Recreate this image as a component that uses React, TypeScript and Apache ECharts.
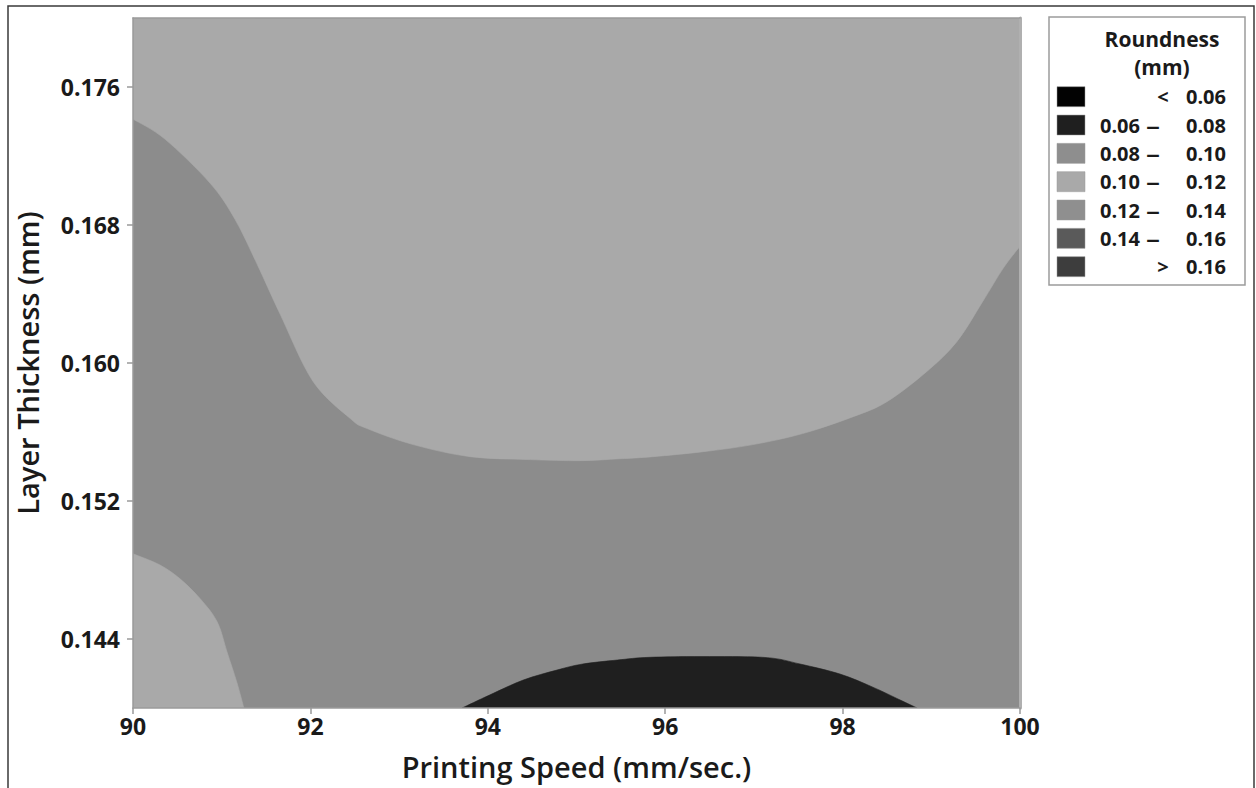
import React, { useEffect, useRef } from "react";
import * as echarts from "echarts";

// ---- data ----
const X_MIN = 90;
const X_MAX = 100;
const Y_MIN = 0.14;
const Y_MAX = 0.18;
const Y_TICKS = [0.144, 0.152, 0.16, 0.168, 0.176];

// boundary between 0.10–0.12 (upper) and 0.08–0.10 (middle band)
const upperBoundary: [number, number][] = [
  [90.0, 0.17414], [90.36, 0.17298], [90.87, 0.17042], [91.15, 0.16833],
  [91.4, 0.16572], [91.66, 0.16282], [92.03, 0.15893], [92.45, 0.15678],
  [92.64, 0.1562], [93.16, 0.15527], [93.8, 0.15457], [94.48, 0.1544],
  [95.04, 0.15434], [95.49, 0.15445], [95.86, 0.15457], [96.43, 0.15486],
  [96.99, 0.15527], [97.55, 0.15591], [98.12, 0.15689], [98.5, 0.15776],
  [98.95, 0.15951], [99.29, 0.16125], [99.58, 0.16357], [99.81, 0.16549],
  [100.0, 0.16677],
];

// boundary of the lower-left 0.10–0.12 pocket
const lowerLeftBoundary: [number, number][] = [
  [90.0, 0.14894], [90.3, 0.1483], [90.53, 0.14749], [90.76, 0.14632],
  [90.95, 0.14499], [91.06, 0.14325], [91.17, 0.1415], [91.25, 0.14],
];

// boundary of the 0.06–0.08 region at the bottom
const darkBoundary: [number, number][] = [
  [93.71, 0.14], [94.02, 0.14075], [94.4, 0.14162], [94.78, 0.1422],
  [95.07, 0.14255], [95.46, 0.14278], [95.83, 0.14294], [96.5, 0.14298],
  [97.15, 0.14292], [97.52, 0.14255], [97.97, 0.14197], [98.34, 0.14121],
  [98.65, 0.14046], [98.84, 0.14],
];

const LEGEND_LOW = ["", "0.06", "0.08", "0.10", "0.12", "0.14", ""];
const LEGEND_SEP = ["<", "–", "–", "–", "–", "–", ">"];
const LEGEND_HIGH = ["0.06", "0.08", "0.10", "0.12", "0.14", "0.16", "0.16"];
const LEGEND_COLORS = ["#020202", "#1f1f1f", "#8e8e8e", "#a9a9a9", "#8f8f8f", "#5a5a5a", "#3d3d3d"];

const COLOR_MID = "#8c8c8c";
const COLOR_LIGHT = "#a9a9a9";
const COLOR_DARK = "#1f1f1f";

const FONT = "'Open Sans', 'Noto Sans', sans-serif";
const TEXT_COLOR = "#1a1a1a";

// smooth path through pixel points (Catmull-Rom as cubic Bezier), then straight closing corners
function smoothPath(curve: number[][], corners: number[][]) {
  let d = `M${curve[0][0]} ${curve[0][1]}`;
  const n = curve.length;
  for (let i = 0; i < n - 1; i++) {
    const p0 = curve[Math.max(0, i - 1)];
    const p1 = curve[i];
    const p2 = curve[i + 1];
    const p3 = curve[Math.min(n - 1, i + 2)];
    const c1x = p1[0] + (p2[0] - p0[0]) / 6;
    const c1y = p1[1] + (p2[1] - p0[1]) / 6;
    const c2x = p2[0] - (p3[0] - p1[0]) / 6;
    const c2y = p2[1] - (p3[1] - p1[1]) / 6;
    d += ` C${c1x} ${c1y} ${c2x} ${c2y} ${p2[0]} ${p2[1]}`;
  }
  corners.forEach((c) => {
    d += ` L${c[0]} ${c[1]}`;
  });
  return d + " Z";
}

function regionSeries(name: string, curve: [number, number][], corners: [number, number][], fill: string) {
  return {
    type: "custom",
    name,
    clip: true,
    silent: true,
    data: [...curve, ...corners],
    encode: { x: 0, y: 1 },
    renderItem: (params: any, api: any) => {
      if (params.dataIndexInside !== 0) return null;
      const cPts = curve.map((p) => api.coord(p));
      const kPts = corners.map((p) => api.coord(p));
      return {
        type: "path",
        shape: { pathData: smoothPath(cPts, kPts) },
        style: { fill, stroke: fill, lineWidth: 0.6 },
      };
    },
  };
}

export default function App() {
  const ref = useRef<HTMLDivElement>(null);

  useEffect(() => {
    if (!ref.current) return;
    const chart = echarts.init(ref.current, null, { renderer: "svg" });

    // legend graphic
    const legendX = 1049;
    const legendY = 17;
    const rowY0 = 96.7;
    const rowStep = 28.33;
    const LEG_FONT = `bold 20px ${FONT}`;
    const legendChildren: any[] = [
      {
        type: "rect",
        shape: { x: legendX, y: legendY, width: 196, height: 268 },
        style: { fill: "#fff", stroke: "#9c9c9c", lineWidth: 1.5 },
      },
      {
        type: "text",
        style: {
          x: 1162, y: 39, text: "Roundness", align: "center", verticalAlign: "middle",
          font: `bold 21px ${FONT}`, fill: TEXT_COLOR,
        },
      },
      {
        type: "text",
        style: {
          x: 1162, y: 67, text: "(mm)", align: "center", verticalAlign: "middle",
          font: `bold 21px ${FONT}`, fill: TEXT_COLOR,
        },
      },
    ];
    LEGEND_HIGH.forEach((hi, i) => {
      const cy = rowY0 + rowStep * i;
      legendChildren.push({
        type: "rect",
        shape: { x: 1057, y: cy - 10, width: 28, height: 20 },
        style: { fill: LEGEND_COLORS[i], stroke: "#9a9a9a", lineWidth: 0.5 },
      });
      if (LEGEND_LOW[i]) {
        legendChildren.push({
          type: "text",
          style: {
            x: 1140, y: cy, text: LEGEND_LOW[i], align: "right", verticalAlign: "middle",
            font: LEG_FONT, fill: TEXT_COLOR,
          },
        });
      }
      legendChildren.push({
        type: "text",
        scaleX: LEGEND_LOW[i] ? 1.4 : 1,
        originX: LEGEND_LOW[i] ? 1153 : 1163,
        originY: cy,
        style: {
          x: LEGEND_LOW[i] ? 1153 : 1163, y: cy, text: LEGEND_SEP[i], align: "center", verticalAlign: "middle",
          font: LEG_FONT, fill: TEXT_COLOR,
        },
      });
      legendChildren.push({
        type: "text",
        style: {
          x: 1226, y: cy, text: hi, align: "right", verticalAlign: "middle",
          font: LEG_FONT, fill: TEXT_COLOR,
        },
      });
    });

    const axisLineStyle = { color: "#9a9a9a", width: 1.5 };

    chart.setOption({
      animation: false,
      backgroundColor: "#ffffff",
      grid: { left: 133, top: 18, right: 236, bottom: 80, containLabel: false },
      xAxis: [
        {
          type: "value",
          min: X_MIN,
          max: X_MAX,
          interval: 2,
          z: 10,
          name: "Printing Speed (mm/sec.)",
          nameLocation: "middle",
          nameGap: 44,
          nameTextStyle: { fontFamily: FONT, fontSize: 29, fontWeight: 600, color: TEXT_COLOR },
          axisLine: { show: true, lineStyle: axisLineStyle },
          axisTick: { show: true, length: 6, lineStyle: axisLineStyle },
          axisLabel: {
            margin: 6, fontFamily: FONT, fontSize: 23, fontWeight: "bold", color: TEXT_COLOR,
            showMinLabel: true, showMaxLabel: true,
          },
          splitLine: { show: false },
        },
        {
          type: "value",
          position: "top",
          min: X_MIN,
          max: X_MAX,
          z: 10,
          axisLine: { show: true, onZero: false, lineStyle: axisLineStyle },
          axisTick: { show: false },
          axisLabel: { show: false },
          splitLine: { show: false },
        },
      ],
      yAxis: [
        {
          type: "value",
          min: Y_MIN,
          max: Y_MAX,
          z: 10,
          name: "Layer Thickness (mm)",
          nameLocation: "middle",
          nameGap: 91,
          nameTextStyle: { fontFamily: FONT, fontSize: 29, fontWeight: 600, color: TEXT_COLOR },
          axisLine: { show: true, lineStyle: axisLineStyle },
          axisTick: { show: true, length: 6, lineStyle: axisLineStyle, customValues: Y_TICKS },
          axisLabel: {
            margin: 13, fontFamily: FONT, fontSize: 23, fontWeight: "bold", color: TEXT_COLOR,
            customValues: Y_TICKS,
            formatter: (v: number) => v.toFixed(3),
          },
          splitLine: { show: false },
        },
        {
          type: "value",
          position: "right",
          min: Y_MIN,
          max: Y_MAX,
          z: 10,
          axisLine: { show: true, onZero: false, lineStyle: { color: "#b0b0b0", width: 3 } },
          axisTick: { show: false },
          axisLabel: { show: false },
          splitLine: { show: false },
        },
      ],
      series: [
        regionSeries("0.08 – 0.10", [[X_MIN, Y_MIN], [X_MAX, Y_MIN]], [[X_MAX, Y_MAX], [X_MIN, Y_MAX]], COLOR_MID),
        regionSeries("0.10 – 0.12", upperBoundary, [[X_MAX, Y_MAX], [X_MIN, Y_MAX]], COLOR_LIGHT),
        regionSeries("0.10 – 0.12 ", lowerLeftBoundary, [[X_MIN, Y_MIN]], COLOR_LIGHT),
        regionSeries("0.06 – 0.08", darkBoundary, [], COLOR_DARK),
      ],
      graphic: [
        {
          type: "rect",
          z: 100,
          shape: { x: 8, y: 6, width: 1246, height: 820 },
          style: { fill: "none", stroke: "#3a3a3a", lineWidth: 1.5 },
        },
        { type: "group", z: 100, children: legendChildren },
      ],
    });

    return () => chart.dispose();
  }, []);

  return (
    <div
      ref={ref}
      style={{ position: "fixed", left: 0, top: 0, width: 1256, height: 788, background: "#fff" }}
    />
  );
}
